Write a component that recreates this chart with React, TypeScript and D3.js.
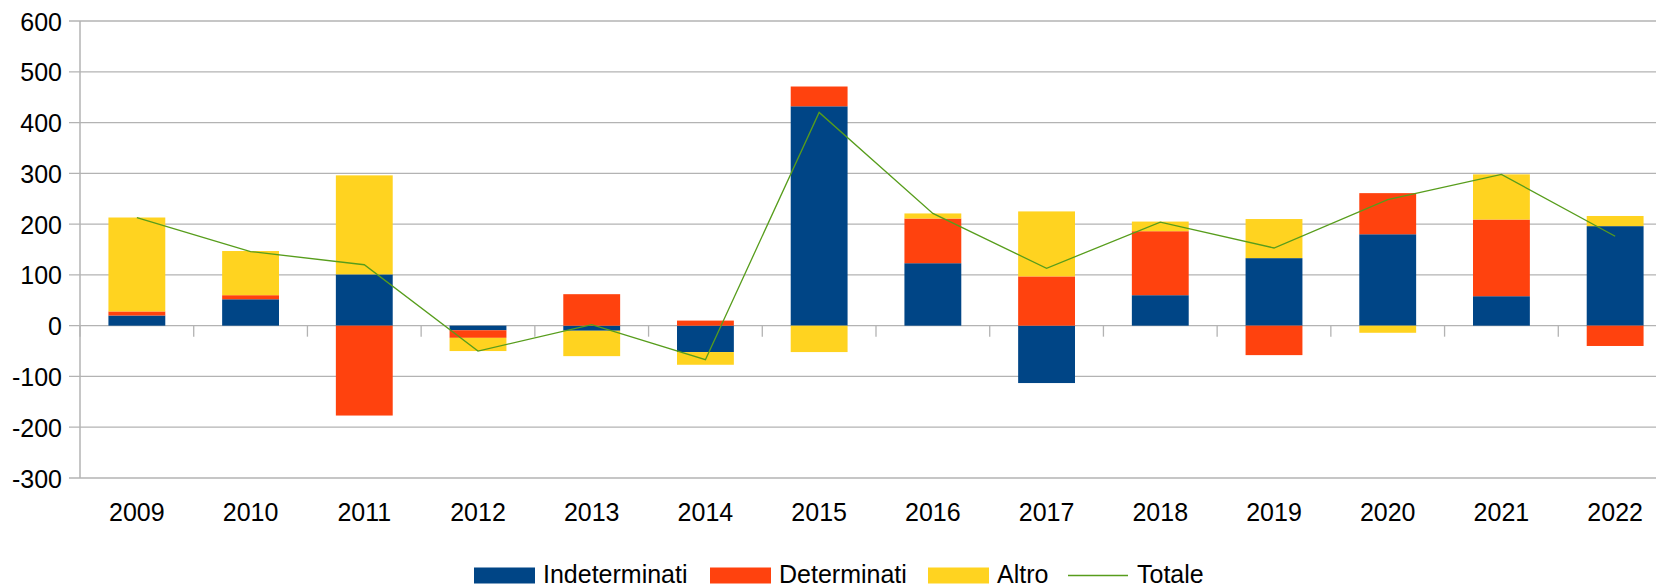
import React from "react";
import * as d3 from "d3";

const years = ["2009","2010","2011","2012","2013","2014","2015","2016","2017","2018","2019","2020","2021","2022"];
const indeterminati = [20, 52, 101, -9, -10, -52, 432, 123, -113, 60, 133, 180, 58, 196];
const determinati = [8, 8, -177, -15, 62, 10, 39, 88, 97, 126, -58, 81, 151, -40];
const altro = [185, 87, 195, -26, -50, -25, -52, 10, 128, 19, 77, -14, 89, 20];
const totale = [213, 146, 120, -50, 2, -67, 420, 221, 113, 204, 153, 248, 298, 176];
const yTicks = [600, 500, 400, 300, 200, 100, 0, -100, -200, -300];

const seriesNames = ["Indeterminati", "Determinati", "Altro"];
const colors = ["#004586", "#ff420e", "#ffd320"];
const lineColor = "#579d1c";
const gridColor = "#b3b3b3";

const W = 1656, H = 587;
const left = 80, right = 1672, top = 21, bottom = 478;
const FONT = "'Liberation Sans', Arial, sans-serif";

export default function App() {
  const x = d3.scaleBand<string>().domain(years).range([left, right]).paddingInner(0.5).paddingOuter(0.25);
  const step = (right - left) / years.length;
  const y = d3.scaleLinear().domain([-300, 600]).range([bottom, top]);

  const rows = years.map((yr, i) => ({ year: yr, s0: indeterminati[i], s1: determinati[i], s2: altro[i] }));
  const stack = d3.stack<any>().keys(["s0", "s1", "s2"]).offset(d3.stackOffsetDiverging);
  const layers = stack(rows);

  const line = d3.line<number>()
    .x((_, i) => (x(years[i]) as number) + x.bandwidth() / 2)
    .y((d) => y(d));

  const legendItems = [
    { type: "rect", label: seriesNames[0], color: colors[0], x: 474 },
    { type: "rect", label: seriesNames[1], color: colors[1], x: 710 },
    { type: "rect", label: seriesNames[2], color: colors[2], x: 928 },
    { type: "line", label: "Totale", color: lineColor, x: 1068 },
  ];

  return (
    <svg width={W} height={H} style={{ position: "absolute", left: 0, top: 0, background: "#fff" }} fontFamily={FONT}>
      {yTicks.map((t) => (
        <g key={t}>
          <line x1={69} x2={W} y1={y(t)} y2={y(t)} stroke={gridColor} strokeWidth={1.3} />
          <text x={62} y={y(t) + 9.5} textAnchor="end" fontSize={25} fill="#000">{t}</text>
        </g>
      ))}
      {d3.range(years.length + 1).map((k) => (
        <line key={k} x1={left + k * step} x2={left + k * step} y1={y(0)} y2={y(0) + 11} stroke={gridColor} strokeWidth={1.3} />
      ))}
      <line x1={left} x2={left} y1={top} y2={bottom} stroke={gridColor} strokeWidth={1.5} />
      {layers.map((layer, li) => (
        <g key={li} fill={colors[li]}>
          {layer.map((d: any, i: number) => {
            const y0 = y(d[0]), y1 = y(d[1]);
            return (
              <rect key={i} x={x(years[i]) as number} width={x.bandwidth()} y={Math.min(y0, y1)} height={Math.abs(y1 - y0)} />
            );
          })}
        </g>
      ))}
      <path d={line(totale) || ""} fill="none" stroke={lineColor} strokeWidth={1.3} />
      {years.map((yr) => (
        <text key={yr} x={(x(yr) as number) + x.bandwidth() / 2} y={521} textAnchor="middle" fontSize={25} fill="#000">{yr}</text>
      ))}
      {legendItems.map((it) => (
        <g key={it.label}>
          {it.type === "rect" ? (
            <rect x={it.x} y={567.5} width={61} height={16} fill={it.color} />
          ) : (
            <line x1={it.x} x2={it.x + 60} y1={575.5} y2={575.5} stroke={it.color} strokeWidth={1.3} />
          )}
          <text x={it.x + 69} y={583} fontSize={25} fill="#000">{it.label}</text>
        </g>
      ))}
    </svg>
  );
}
